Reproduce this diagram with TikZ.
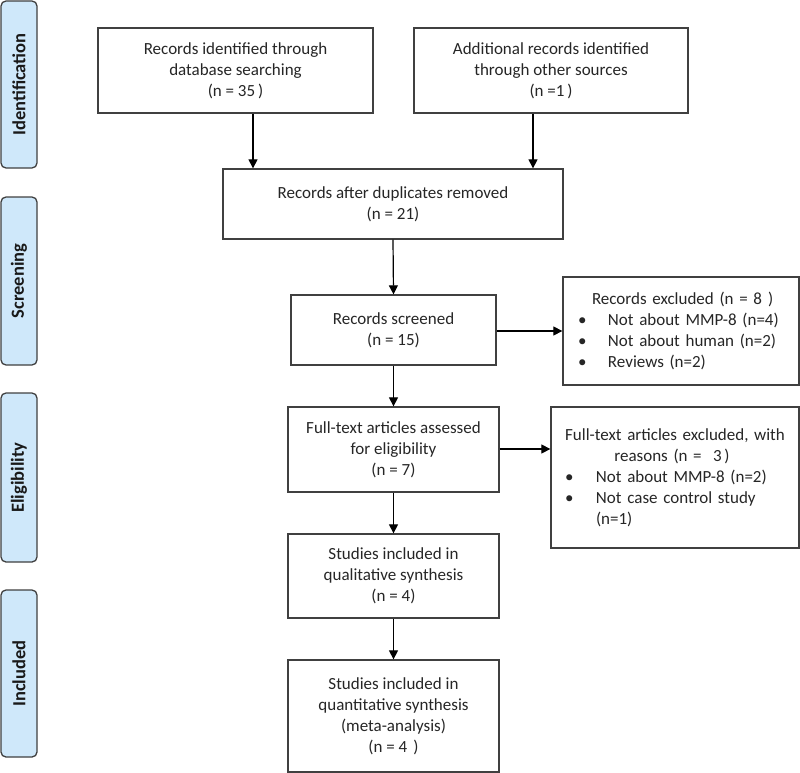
\documentclass[tikz,border=0pt]{standalone}
\usepackage{fontspec}
\setmainfont{Carlito}
\usetikzlibrary{arrows.meta}
\definecolor{sidefill}{HTML}{CFE8FA}
\definecolor{linegray}{HTML}{404040}
\tikzset{
  box/.style={draw=linegray, line width=1.3pt, fill=white, align=center, inner sep=0pt,
    font=\fontsize{17}{21}\selectfont, text=black!85},
  listbox/.style={draw=linegray, line width=1.3pt, fill=white, align=left, inner sep=0pt,
    font=\fontsize{17}{21}\selectfont, text=black!85},
  side/.style={draw=linegray, line width=1.3pt, fill=sidefill, rounded corners=5pt, rotate=90,
    minimum height=36pt, inner sep=0pt, font=\fontsize{18.5}{20}\selectfont\bfseries, text=black!90},
  arr/.style={draw=black, line width=1.2pt, -{Triangle[length=9pt,width=9pt]}}
}
\begin{document}
\begin{tikzpicture}[x=1pt,y=-1pt]
\useasboundingbox (0,0) rectangle (800,773);
% side labels
\node[side, minimum width=167pt] (sid) at (19,84.5) {Identification};
\node[side, minimum width=168pt] (sscr) at (19,281) {Screening};
\node[side, minimum width=169pt] (seli) at (19,477.5) {Eligibility};
\node[side, minimum width=167pt] (sinc) at (19,673.5) {Included};
% main boxes
\node[box, minimum width=275pt, minimum height=85pt] (b1) at (235.5,70.5)
  {Records identified through\\database searching\\(n = 35\,)};
\node[box, minimum width=274pt, minimum height=85pt] (b2) at (551,70.5)
  {Additional records identified\\through other sources\\(n =1\,)};
\node[box, minimum width=340pt, minimum height=70pt] (b3) at (393,204)
  {Records after duplicates removed\\(n = 21)};
\node[box, minimum width=205pt, minimum height=70pt] (b4) at (393.5,330)
  {Records screened\\(n = 15)};
\node[box, minimum width=211pt, minimum height=85pt] (b5) at (393.5,449.5)
  {Full-text articles assessed\\for eligibility\\(n = 7)};
\node[box, minimum width=211pt, minimum height=84pt] (b6) at (393.5,576)
  {Studies included in\\qualitative synthesis\\(n = 4)};
\node[box, minimum width=211pt, minimum height=112pt] (b7) at (393.5,716)
  {Studies included in\\quantitative synthesis\\(meta-analysis)\\(n = 4\hspace{6pt})};
% exclusion boxes
\node[listbox, minimum width=236pt, minimum height=108pt, text width=206pt] (e1) at (681,331)
  {\hspace*{14pt}Records excluded (n = 8\hspace{6pt})\\
   \makebox[30pt][l]{\textbullet}Not about MMP-8 (n=4)\\
   \makebox[30pt][l]{\textbullet}Not about human (n=2)\\
   \makebox[30pt][l]{\textbullet}Reviews (n=2)};
\node[listbox, minimum width=248pt, minimum height=141pt, text width=220pt] (e2) at (675,477.5)
  {\makebox[220pt][c]{Full-text articles excluded, with}\\
   \makebox[214pt][c]{reasons (n =\ \ 3\,)}\\
   \makebox[31pt][l]{\textbullet}Not about MMP-8 (n=2)\\
   \makebox[31pt][l]{\textbullet}Not case control study\\
   \makebox[31pt][l]{}(n=1)\\[5pt]};
% connectors
\draw[arr] ([xshift=17.5pt]b1.south) -- ([xshift=17.5pt]b1.south |- b3.north);
\draw[arr] ([xshift=-18pt]b2.south) -- ([xshift=-18pt]b2.south |- b3.north);
\draw[arr] (b3.south) -- (b4.north);
\draw[arr] (b4.east |- 0,331) -- (e1.west |- 0,331);
\draw[arr] (b4.south) -- (b5.north);
\draw[arr] (b5.east |- 0,449) -- (e2.west |- 0,449);
\draw[arr] (b5.south) -- (b6.north);
\draw[arr] (b6.south) -- (b7.north);
\end{tikzpicture}
\end{document}
